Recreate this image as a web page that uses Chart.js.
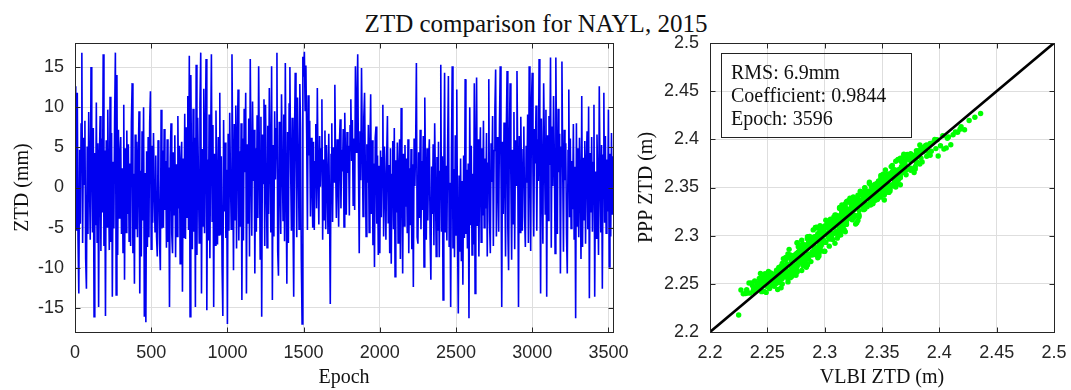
<!DOCTYPE html>
<html>
<head>
<meta charset="utf-8">
<script src="https://cdn.jsdelivr.net/npm/chart.js@4.4.1/dist/chart.umd.min.js"></script>
<style>
html,body{margin:0;padding:0;background:#fff;}
body{width:1071px;height:390px;position:relative;overflow:hidden;}
#title{position:absolute;left:36px;top:11px;width:1000px;text-align:center;font-family:"Liberation Serif","Times New Roman",serif;font-size:25px;line-height:25px;color:#111;white-space:nowrap;}
#stats{position:absolute;left:721px;top:53px;width:189px;height:83px;border:1px solid #222;padding:0;box-sizing:content-box;}
#stats div{position:absolute;left:9px;font-family:"Liberation Serif","Times New Roman",serif;font-size:20px;line-height:23px;color:#111;white-space:nowrap;}
canvas{position:absolute;top:0;}
</style>
</head>
<body>
<div id="title"></div>
<canvas id="c1" width="630" height="390" style="left:0px"></canvas>
<canvas id="c2" width="441" height="390" style="left:630px"></canvas>
<div id="stats"></div>
<script>
// ---------------- data ----------------
const chartTitle = "ZTD comparison for NAYL, 2015";
const statsLines = ["RMS: 6.9mm", "Coefficient: 0.9844", "Epoch: 3596"];
const EPOCH_STEP = 5; // one value read every 5 epochs

// PPP - VLBI ZTD difference (mm)
const ztdDiff = [
12.6,3.1,-5.4,11.8,-6.5,-13.2,4.7,-4.5,7.9,16.8,-6.9,6.2,0.4,8.3,-8.9,-12.6,5.1,-5.8,9.4,1.2,
-6.5,15.0,2.8,-5.6,7.4,-16.1,4.3,-4.7,10.6,-6.8,5.5,-14.9,3.7,8.9,-7.9,6.1,-3.1,16.6,-7.3,4.6,
-16.0,5.9,-4.9,9.7,0.6,-7.8,11.3,-6.8,6.8,-13.6,3.2,-5.1,8.6,16.8,-13.4,14.0,-8.4,7.2,-3.8,4.1,
6.3,-5.8,2.4,-8.1,10.3,-11.5,4.9,-5.6,7.1,-3.3,5.4,-6.7,3.0,-7.3,8.2,13.0,-8.2,1.7,-12.0,6.6,
-5.2,5.7,-6.2,3.4,9.5,-13.2,2.1,-8.6,7.0,-4.1,10.0,-16.1,1.8,-16.8,4.5,-7.4,6.3,-6.2,8.1,12.0,
-7.7,5.2,-4.4,6.8,0.3,-5.5,4.0,-6.1,-8.6,5.9,1.1,-7.0,-10.3,9.7,-5.1,4.6,-5.0,7.3,-2.8,3.3,
-7.5,6.0,-6.8,2.5,-14.9,3.8,8.0,-5.8,-8.2,4.4,-3.4,6.5,-8.7,2.9,-6.1,8.9,-2.6,5.2,-9.5,3.1,
5.7,-13.0,3.6,-6.3,9.2,-6.4,7.5,-3.7,11.4,-5.3,16.4,-16.1,14.0,0.9,-7.7,9.8,-5.5,6.2,-14.9,15.3,
-8.4,8.7,1.4,-6.9,10.5,16.8,-13.2,4.8,-4.8,12.3,-5.7,6.4,16.0,-15.3,3.5,-6.6,9.1,-8.8,5.0,16.6,
-4.2,7.8,-14.9,4.2,-7.2,9.6,0.2,-7.1,6.3,-5.9,11.8,-5.9,3.9,-9.8,-16.0,8.4,-3.0,5.6,-6.3,2.2,
-17.0,6.7,-5.4,9.3,1.5,-5.2,16.6,3.0,-10.3,7.9,-4.0,10.2,-7.6,5.8,12.2,-6.6,4.5,-4.9,8.0,-14.0,
6.1,-6.6,9.8,1.9,11.8,-13.2,5.4,-4.5,8.6,-8.6,16.0,2.7,-6.0,10.7,0.8,7.2,-10.7,4.9,-5.5,9.0,
-3.8,15.1,3.4,-8.9,8.8,-16.1,6.6,0.5,11.0,-7.3,10.3,2.0,-7.5,7.7,-3.3,12.4,4.1,-5.6,15.1,-14.0,
5.3,-6.1,9.5,1.0,7.3,16.8,-7.9,-11.0,8.2,2.6,-5.8,11.6,3.9,-4.1,9.1,-6.7,15.5,0.4,-12.0,6.9,
-6.9,10.4,15.0,2.2,-5.4,8.7,-3.4,-13.6,6.0,14.3,3.1,-6.2,11.2,4.6,-5.2,12.9,7.4,-9.1,-17.0,16.3,
13.8,16.9,9.6,15.2,6.8,-5.3,11.5,4.0,8.3,-3.6,6.2,0.9,-5.0,5.7,-5.3,3.2,7.9,-2.6,12.4,1.6,
-4.6,6.4,0.1,4.8,11.0,-6.5,3.5,-4.0,7.1,-5.2,5.3,1.2,-5.8,6.7,-2.5,-14.5,4.1,8.0,-4.3,5.0,
0.7,12.8,2.9,-3.8,6.0,1.3,-4.9,5.6,8.5,-2.6,4.7,2.0,7.3,-4.9,9.3,3.6,-3.4,6.9,1.8,5.2,
-3.5,7.7,11.0,3.3,8.4,-2.2,6.1,-2.8,15.1,4.4,9.9,16.6,2.5,-8.2,7.0,0.9,14.9,5.5,-3.6,8.8,
11.8,2.1,-6.1,5.4,0.6,7.8,-5.6,4.3,11.6,-3.3,5.9,-7.2,3.0,-9.9,6.2,7.6,-4.5,4.0,-8.4,2.7,
-8.2,4.6,-3.7,3.7,10.3,-6.1,5.1,0.4,-6.5,3.9,8.9,-4.4,2.8,-8.2,4.9,-9.5,1.6,5.8,-5.2,7.4,
-11.1,3.4,-3.1,5.6,-6.9,2.2,6.0,-8.9,9.9,1.0,-10.7,4.2,-4.8,5.3,-2.4,3.6,-5.7,6.0,-8.2,2.4,
-4.7,4.8,-7.7,2.9,-12.4,6.1,0.2,5.0,15.5,-6.2,-7.0,4.4,-3.8,7.2,-5.2,3.3,-2.8,6.4,-9.9,11.2,
1.8,-6.5,4.9,-4.1,3.1,6.0,-5.9,-11.5,2.6,-3.3,5.4,-7.2,8.0,0.5,-8.6,3.8,-5.4,5.7,-8.7,2.0,
15.3,-5.5,3.9,-14.0,1.2,14.3,-5.6,2.7,-6.6,5.1,13.9,-7.3,0.6,-14.9,4.2,15.1,-7.6,2.3,-8.7,6.5,
-5.9,12.2,-6.4,-15.7,1.5,-8.0,3.6,-9.2,0.8,-12.1,4.0,-6.3,13.5,-5.8,2.2,-7.6,3.0,-16.3,10.0,-4.7,
5.2,-8.4,1.7,-7.1,13.0,-13.2,4.3,13.7,-4.8,6.0,-8.6,2.4,7.5,-6.8,4.9,-3.5,8.3,-5.0,3.6,-2.6,
6.8,-8.6,3.0,13.5,-4.2,-8.2,5.5,0.7,8.9,-7.3,4.6,9.7,14.7,-6.1,6.3,1.4,-5.5,7.8,15.1,2.5,
-14.9,5.7,-3.3,8.1,2.0,-8.6,7.0,14.5,-5.1,-10.3,6.6,13.0,1.0,-9.0,4.7,-4.5,9.4,-7.7,5.9,0.3,
14.5,3.2,-14.9,6.4,-5.6,8.8,1.1,-5.4,4.7,7.6,-3.8,-7.4,5.2,0.6,9.1,-6.9,15.1,2.9,-7.9,10.8,
14.3,1.7,-6.1,7.3,3.0,10.2,-5.4,6.0,0.8,16.0,4.5,-13.2,8.6,2.2,-7.0,13.0,5.3,-3.3,9.7,-13.6,
6.5,-4.1,8.9,2.8,16.2,-7.5,7.6,0.2,11.4,4.1,-8.2,16.2,3.6,-5.8,9.8,1.9,6.7,-10.7,5.0,15.7,
2.4,-8.0,7.2,0.9,5.5,-5.9,-10.7,4.6,12.2,-3.7,6.1,-5.1,3.3,-2.7,7.9,-6.4,2.6,-16.3,8.0,-4.8,
4.9,-6.2,6.2,0.4,-8.9,11.4,-7.4,3.7,-4.0,5.8,-7.0,2.9,7.0,-5.2,10.1,-13.8,4.3,-3.1,6.3,-5.5,
3.1,10.3,-13.6,2.0,-6.3,6.6,0.1,-8.4,12.6,1.5,-5.6,5.3,-12.6,4.0,11.8,-4.4,6.4,-5.7,3.5,-3.0,
9.7,-9.9,4.2,-6.1,6.8,-3.4,3.9
];

// VLBI ZTD (m) at the same epochs
const vlbiZtd = [
2.248,2.257,2.264,2.251,2.268,2.274,2.255,2.262,2.250,2.244,2.266,2.258,2.261,2.253,2.270,2.276,2.259,2.267,2.252,2.263,
2.258,2.236,2.241,2.254,2.233,2.262,2.238,2.247,2.229,2.252,2.235,2.259,2.243,2.231,2.249,2.240,2.245,2.227,2.225,2.244,
2.268,2.250,2.259,2.241,2.255,2.266,2.237,2.262,2.246,2.270,2.252,2.264,2.243,2.234,2.272,2.239,2.260,2.248,2.256,2.253,
2.262,2.267,2.271,2.276,2.280,2.283,2.279,2.274,2.270,2.266,2.261,2.257,2.254,2.258,2.263,2.268,2.273,2.277,2.281,2.284,
2.286,2.282,2.277,2.272,2.268,2.263,2.259,2.256,2.260,2.265,2.270,2.275,2.279,2.284,2.288,2.285,2.280,2.274,2.269,2.264,
2.259,2.246,2.255,2.242,2.250,2.263,2.248,2.257,2.266,2.244,2.253,2.261,2.269,2.247,2.258,2.251,2.264,2.249,2.256,2.262,
2.270,2.275,2.279,2.284,2.288,2.292,2.296,2.293,2.288,2.283,2.278,2.273,2.268,2.264,2.261,2.266,2.271,2.276,2.281,2.285,
2.289,2.293,2.297,2.300,2.296,2.291,2.286,2.281,2.277,2.273,2.276,2.280,2.285,2.290,2.294,2.298,2.295,2.290,2.285,2.280,
2.275,2.270,2.266,2.262,2.265,2.269,2.274,2.279,2.283,2.287,2.291,2.294,2.290,2.285,2.280,2.276,2.279,2.284,2.288,2.292,
2.296,2.300,2.304,2.307,2.310,2.306,2.302,2.297,2.293,2.289,2.285,2.282,2.286,2.290,2.295,2.299,2.303,2.307,2.304,2.299,
2.294,2.289,2.284,2.279,2.275,2.272,2.276,2.281,2.286,2.291,2.296,2.300,2.304,2.308,2.305,2.300,2.295,2.291,2.294,2.298,
2.302,2.306,2.311,2.315,2.318,2.314,2.309,2.304,2.300,2.296,2.292,2.295,2.299,2.304,2.309,2.313,2.317,2.320,2.316,2.311,
2.306,2.301,2.297,2.293,2.296,2.300,2.305,2.310,2.315,2.319,2.323,2.327,2.324,2.319,2.314,2.309,2.305,2.308,2.313,2.318,
2.322,2.326,2.329,2.325,2.320,2.315,2.311,2.307,2.303,2.306,2.310,2.315,2.320,2.324,2.328,2.325,2.320,2.316,2.312,2.315,
2.319,2.323,2.318,2.313,2.308,2.303,2.299,2.295,2.292,2.296,2.300,2.305,2.310,2.314,2.318,2.322,2.319,2.314,2.309,2.313,
2.317,2.322,2.327,2.331,2.335,2.338,2.334,2.329,2.324,2.319,2.314,2.310,2.306,2.303,2.307,2.312,2.317,2.322,2.326,2.330,
2.334,2.338,2.342,2.346,2.349,2.345,2.340,2.335,2.330,2.326,2.322,2.318,2.314,2.318,2.323,2.328,2.333,2.337,2.341,2.344,
2.347,2.351,2.354,2.350,2.345,2.340,2.335,2.331,2.327,2.323,2.326,2.330,2.335,2.340,2.344,2.348,2.352,2.349,2.344,2.339,
2.334,2.329,2.325,2.321,2.317,2.313,2.316,2.320,2.325,2.330,2.335,2.339,2.343,2.340,2.335,2.331,2.335,2.339,2.343,2.346,
2.350,2.354,2.357,2.353,2.348,2.343,2.338,2.334,2.331,2.335,2.339,2.344,2.348,2.352,2.356,2.359,2.355,2.350,2.346,2.349,
2.353,2.357,2.361,2.365,2.368,2.364,2.359,2.354,2.349,2.345,2.341,2.344,2.348,2.353,2.357,2.361,2.365,2.369,2.366,2.361,
2.356,2.351,2.346,2.341,2.337,2.333,2.337,2.342,2.347,2.352,2.357,2.361,2.365,2.369,2.366,2.361,2.356,2.352,2.355,2.359,
2.363,2.367,2.371,2.375,2.378,2.382,2.379,2.374,2.369,2.364,2.360,2.356,2.353,2.357,2.361,2.366,2.371,2.375,2.379,2.383,
2.386,2.389,2.385,2.380,2.375,2.370,2.366,2.362,2.365,2.369,2.374,2.379,2.384,2.388,2.392,2.396,2.393,2.388,2.383,2.378,
2.362,2.391,2.378,2.404,2.386,2.366,2.408,2.383,2.397,2.374,2.359,2.412,2.388,2.406,2.380,2.364,2.401,2.385,2.416,2.377,
2.419,2.372,2.426,2.410,2.398,2.431,2.392,2.436,2.403,2.422,2.389,2.414,2.369,2.407,2.394,2.418,2.384,2.399,2.375,2.381,
2.389,2.385,2.380,2.375,2.370,2.366,2.362,2.358,2.355,2.359,2.363,2.368,2.372,2.376,2.380,2.384,2.380,2.375,2.370,2.365,
2.361,2.357,2.353,2.349,2.345,2.342,2.346,2.350,2.355,2.359,2.363,2.367,2.364,2.359,2.354,2.350,2.346,2.349,2.353,2.357,
2.352,2.347,2.342,2.338,2.334,2.330,2.326,2.322,2.326,2.330,2.335,2.340,2.345,2.349,2.353,2.357,2.354,2.349,2.344,2.339,
2.335,2.331,2.327,2.323,2.319,2.315,2.312,2.316,2.320,2.325,2.330,2.335,2.339,2.343,2.347,2.344,2.339,2.334,2.329,2.325,
2.321,2.317,2.313,2.309,2.305,2.302,2.306,2.310,2.315,2.320,2.325,2.329,2.333,2.337,2.334,2.329,2.324,2.319,2.315,2.311,
2.307,2.303,2.299,2.295,2.292,2.295,2.299,2.304,2.308,2.312,2.316,2.319,2.315,2.310,2.305,2.300,2.296,2.292,2.289,2.293,
2.297,2.301,2.305,2.308,2.304,2.299,2.294,2.289,2.285,2.281,2.277,2.274,2.278,2.282,2.287,2.292,2.296,2.300,2.297,2.292,
2.287,2.282,2.278,2.274,2.270,2.266,2.263,2.267,2.271,2.276,2.281,2.285,2.289,2.286,2.281,2.276,2.271,2.267,2.263,2.260,
2.257,2.246,2.271,2.262,2.266,2.251,2.260,2.273,2.243,2.258,2.265,2.248,2.268,2.252,2.232,2.255,2.238,2.261,2.245,2.250,
2.249,2.268,2.256,2.262,2.247,2.260,2.254
];

const oneToOne = [2.2, 2.5];
const epochTicks = [0, 500, 1000, 1500, 2000, 2500, 3000, 3500];
const diffTicks = [-15, -10, -5, 0, 5, 10, 15];
const ztdTicks = [2.2, 2.25, 2.3, 2.35, 2.4, 2.45, 2.5];

// ---------------- helpers ----------------
document.getElementById('title').textContent = chartTitle;
statsLines.forEach((t, i) => {
  const d = document.getElementById('stats').appendChild(document.createElement('div'));
  d.textContent = t;
  d.style.top = (7 + i * 23) + 'px';
});

const SANS = '"Liberation Sans", Arial, Helvetica, sans-serif';
const SERIF = '"Liberation Serif", "Times New Roman", serif';
const AXIS_COLOR = '#262626';
const GRID_COLOR = '#dedede';

const framePlugin = {
  id: 'frame',
  afterDraw(chart) {
    const {ctx, chartArea: a, scales} = chart;
    const L = Math.round(a.left) + 0.5, R = Math.round(a.right) + 0.5;
    const T = Math.round(a.top) + 0.5, B = Math.round(a.bottom) + 0.5;
    const tl = 5;
    ctx.save();
    ctx.strokeStyle = AXIS_COLOR;
    ctx.lineWidth = 1;
    ctx.beginPath();
    scales.x.ticks.forEach(t => {
      const p = Math.round(scales.x.getPixelForValue(t.value)) + 0.5;
      ctx.moveTo(p, B); ctx.lineTo(p, B - tl);
      ctx.moveTo(p, T); ctx.lineTo(p, T + tl);
    });
    scales.y.ticks.forEach(t => {
      const p = Math.round(scales.y.getPixelForValue(t.value)) + 0.5;
      ctx.moveTo(L, p); ctx.lineTo(L + tl, p);
      ctx.moveTo(R, p); ctx.lineTo(R - tl, p);
    });
    ctx.stroke();
    ctx.strokeRect(L, T, R - L, B - T);
    ctx.restore();
  }
};

function axis(opts) {
  return {
    type: 'linear',
    position: opts.position,
    min: opts.min, max: opts.max,
    afterBuildTicks: s => { s.ticks = opts.ticks.map(v => ({value: v})); },
    afterFit: s => {
      if (opts.width) s.width = opts.width;
      if (opts.height) s.height = opts.height;
      s.paddingLeft = 0; s.paddingRight = 0; s.paddingTop = 0; s.paddingBottom = 0;
    },
    grid: {color: GRID_COLOR, lineWidth: 1, drawTicks: false},
    border: {display: false},
    ticks: {
      color: AXIS_COLOR, padding: opts.tickPad,
      font: {family: SANS, size: 18},
      callback: v => String(v),
      autoSkip: false, maxRotation: 0
    },
    title: {
      display: true, text: opts.title, color: '#111',
      font: {family: SERIF, size: 20, lineHeight: 1.2},
      padding: opts.titlePad
    }
  };
}

Chart.defaults.animation = false;

// ---------------- left: time series ----------------
const epochs = ztdDiff.map((_, i) => i * EPOCH_STEP);
new Chart(document.getElementById('c1'), {
  type: 'line',
  data: {
    datasets: [{
      data: ztdDiff.map((v, i) => ({x: epochs[i], y: v})),
      borderColor: '#0000f0',
      borderWidth: 1.6,
      pointRadius: 0,
      tension: 0,
      fill: false
    }]
  },
  options: {
    responsive: false,
    devicePixelRatio: 1,
    animation: false,
    layout: {padding: {left: 0, top: 43, right: 17, bottom: 0}},
    plugins: {legend: {display: false}, tooltip: {enabled: false}},
    scales: {
      x: axis({position: 'bottom', min: 0, max: 3530, ticks: epochTicks, height: 58, tickPad: 10,
               title: 'Epoch', titlePad: {top: 0, bottom: 0}}),
      y: axis({position: 'left', min: -18, max: 18, ticks: diffTicks, width: 75, tickPad: 11,
               title: 'ZTD (mm)', titlePad: {top: 11, bottom: 0}})
    }
  },
  plugins: [framePlugin]
});

// ---------------- right: scatter ----------------
new Chart(document.getElementById('c2'), {
  type: 'scatter',
  data: {
    datasets: [
      {
        data: oneToOne.map(v => ({x: v, y: v})),
        showLine: true,
        borderColor: '#000000',
        borderWidth: 2.6,
        pointRadius: 0,
        order: 0
      },
      {
        data: vlbiZtd.map((v, i) => ({x: v, y: v + ztdDiff[i] / 1000})),
        backgroundColor: '#00ff00',
        borderWidth: 0,
        pointRadius: 2.7,
        order: 1
      }
    ]
  },
  options: {
    responsive: false,
    devicePixelRatio: 1,
    animation: false,
    layout: {padding: {left: 0, top: 43, right: 17, bottom: 0}},
    plugins: {legend: {display: false}, tooltip: {enabled: false}},
    scales: {
      x: axis({position: 'bottom', min: 2.2, max: 2.5, ticks: ztdTicks, height: 58, tickPad: 10,
               title: 'VLBI ZTD (m)', titlePad: {top: 0, bottom: 0}}),
      y: axis({position: 'left', min: 2.2, max: 2.5, ticks: ztdTicks, width: 80, tickPad: 11,
               title: 'PPP ZTD (m)', titlePad: {top: 5, bottom: 0}})
    }
  },
  plugins: [framePlugin]
});
</script>
</body>
</html>
